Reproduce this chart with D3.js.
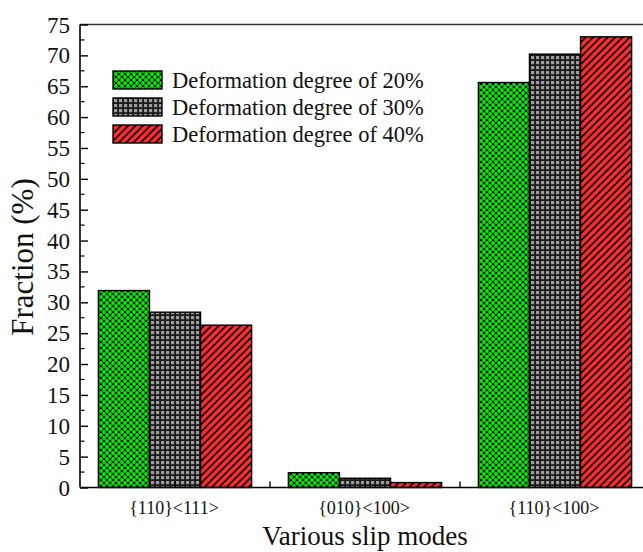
<!DOCTYPE html>
<html>
<head>
<meta charset="utf-8">
<script src="https://cdn.jsdelivr.net/npm/d3@7"></script>
<style>
  html, body { margin: 0; padding: 0; background: #fff; }
  svg { display: block; }
  text { font-family: "Liberation Serif", "Times New Roman", serif; fill: #111; }
</style>
</head>
<body>
<svg id="chart" width="643" height="552"></svg>
<script>
// Slip-mode fractions for three deformation degrees
const categories = ["{110}<111>", "{010}<100>", "{110}<100>"];
const seriesNames = ["Deformation degree of 20%", "Deformation degree of 30%", "Deformation degree of 40%"];
const deg20 = [31.9, 2.4, 65.6];
const deg30 = [28.4, 1.5, 70.2];
const deg40 = [26.3, 0.8, 73.0];
const yTicks = [0, 5, 10, 15, 20, 25, 30, 35, 40, 45, 50, 55, 60, 65, 70, 75];
const series = [deg20, deg30, deg40];
const patternIds = ["pat-green", "pat-gray", "pat-red"];

const svg = d3.select("#chart");
const x0 = 80, x1 = 650;
const yTop = 24.5, yBot = 487.5;

// --- fill patterns ---
const defs = svg.append("defs");
const pg = defs.append("pattern").attr("id", "pat-green")
  .attr("patternUnits", "userSpaceOnUse").attr("width", 6).attr("height", 6);
pg.append("rect").attr("width", 6).attr("height", 6).attr("fill", "#000");
[[0,0],[6,0],[0,6],[6,6],[3,3]].forEach(([cx, cy]) =>
  pg.append("circle").attr("cx", cx).attr("cy", cy).attr("r", 1.9).attr("fill", "#00f400"));

const pgr = defs.append("pattern").attr("id", "pat-gray")
  .attr("patternUnits", "userSpaceOnUse").attr("width", 5).attr("height", 5);
pgr.append("rect").attr("width", 5).attr("height", 5).attr("fill", "#1a1a1a");
pgr.append("rect").attr("x", 1).attr("y", 1).attr("width", 3.2).attr("height", 3.2).attr("fill", "#9c9c9c");

const pr = defs.append("pattern").attr("id", "pat-red")
  .attr("patternUnits", "userSpaceOnUse").attr("width", 5.2).attr("height", 5.2)
  .attr("patternTransform", "rotate(45)");
pr.append("rect").attr("width", 5.2).attr("height", 5.2).attr("fill", "#ff2a30");
pr.append("rect").attr("width", 1.7).attr("height", 5.2).attr("fill", "#000");

// --- scales ---
const x = d3.scaleBand().domain(categories).range([x0, x1]).paddingInner(0).paddingOuter(0);
const xs = d3.scaleBand().domain(d3.range(series.length)).range([0, x.bandwidth()]).paddingOuter(0.36).paddingInner(0);
const y = d3.scaleLinear().domain([0, 75]).range([yBot, yTop]);

// --- bars ---
const groups = svg.append("g").selectAll("g").data(categories).join("g")
  .attr("transform", d => `translate(${x(d)},0)`);
groups.selectAll("rect")
  .data((c, ci) => series.map((s, si) => ({ si, v: s[ci] })))
  .join("rect")
  .attr("x", d => xs(d.si))
  .attr("width", xs.bandwidth())
  .attr("y", d => y(d.v))
  .attr("height", d => y(0) - y(d.v))
  .attr("fill", d => `url(#${patternIds[d.si]})`)
  .attr("stroke", "#000").attr("stroke-width", 1.4);

// --- axes ---
svg.append("line").attr("x1", x0).attr("x2", 660).attr("y1", yTop).attr("y2", yTop)
  .attr("stroke", "#333").attr("stroke-width", 1.6);

// left axis with inward ticks
const yAxis = d3.axisRight(y).tickValues(yTicks).tickSize(8).tickFormat("");
const gy = svg.append("g").attr("transform", `translate(${x0},0)`).call(yAxis);
gy.select(".domain").attr("stroke-width", 1.6).attr("d", `M0,${yBot}V${yTop}`);
gy.selectAll(".tick line").attr("stroke-width", 1.4);
// minor ticks
const minor = d3.range(2.5, 75, 5);
svg.append("g").attr("transform", `translate(${x0},0)`).selectAll("line").data(minor).join("line")
  .attr("x1", 0).attr("x2", 4.5).attr("y1", d => y(d)).attr("y2", d => y(d))
  .attr("stroke", "#000").attr("stroke-width", 1.2);
// tick labels
svg.append("g").selectAll("text").data(yTicks).join("text")
  .attr("x", 70).attr("y", d => y(d)).attr("dy", "0.35em")
  .attr("text-anchor", "end").attr("font-size", 23).text(d => d);

// bottom axis
svg.append("line").attr("x1", x0).attr("x2", 660).attr("y1", yBot).attr("y2", yBot)
  .attr("stroke", "#000").attr("stroke-width", 1.6);
const xTickPos = [];
categories.forEach(c => { xTickPos.push(x(c) + x.bandwidth() / 2); xTickPos.push(x(c) + x.bandwidth()); });
svg.append("g").selectAll("line").data(xTickPos.filter(p => p < 643)).join("line")
  .attr("x1", d => d).attr("x2", d => d).attr("y1", yBot).attr("y2", yBot - 6)
  .attr("stroke", "#000").attr("stroke-width", 1.4);
svg.append("g").selectAll("text").data(categories).join("text")
  .attr("x", d => x(d) + x.bandwidth() / 2 - 1).attr("y", 514)
  .attr("text-anchor", "middle").attr("font-size", 18).text(d => d);

// axis titles
svg.append("text").attr("x", 365).attr("y", 545).attr("text-anchor", "middle")
  .attr("font-size", 27).text("Various slip modes");
svg.append("text").attr("transform", "translate(33,257) rotate(-90)")
  .attr("text-anchor", "middle").attr("font-size", 31).text("Fraction (%)");

// legend
const legend = svg.append("g").selectAll("g").data(seriesNames).join("g")
  .attr("transform", (d, i) => `translate(113,${71 + i * 27})`);
legend.append("rect").attr("width", 49).attr("height", 18)
  .attr("fill", (d, i) => `url(#${patternIds[i]})`).attr("stroke", "#000").attr("stroke-width", 1.4);
legend.append("text").attr("x", 59).attr("y", 9).attr("dy", "0.35em")
  .attr("font-size", 22.5).text(d => d);
</script>
</body>
</html>
